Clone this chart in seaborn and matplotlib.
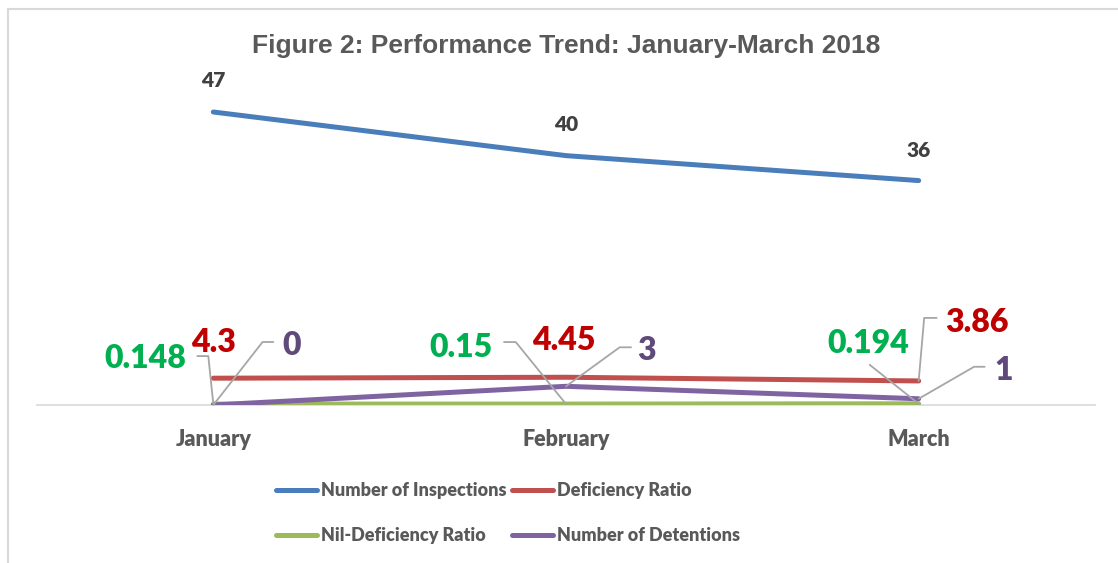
import numpy as np
import pandas as pd
import matplotlib
matplotlib.use("Agg")
import matplotlib.pyplot as plt
from matplotlib.patches import Rectangle
from matplotlib.lines import Line2D
import seaborn as sns

# ---- data ----
months = ["January", "February", "March"]
inspections = [47, 40, 36]
deficiency_ratio = [4.3, 4.45, 3.86]
nil_deficiency_ratio = [0.148, 0.15, 0.194]
detentions = [0, 3, 1]
series_names = ["Number of Inspections", "Deficiency Ratio",
                "Nil-Deficiency Ratio", "Number of Detentions"]
title = "Figure 2: Performance Trend: January-March 2018"

# ---- styling ----
line_colors = ["#4A7EBB", "#C0504D", "#9BBB59", "#8064A2"]
label_colors = ["#404040", "#C00000", "#00B050", "#604A7B"]
label_font = "Lato"
heavy = "heavy"

sns.set_theme(style="white")
plt.rcParams["font.family"] = ["Lato", "DejaVu Sans"]

series_values = [inspections, deficiency_ratio, nil_deficiency_ratio, detentions]
df = pd.DataFrame({
    "Month": np.tile(months, len(series_names)),
    "Value": np.concatenate(series_values),
    "Series": np.repeat(series_names, len(months)),
})

W, H = 1118, 563
fig = plt.figure(figsize=(W / 100, H / 100), dpi=100)
ax = fig.add_axes([37 / W, (H - 405) / H, (1095 - 37) / W, 311.7 / H])

sns.lineplot(data=df, x="Month", y="Value", hue="Series", hue_order=series_names,
             palette=line_colors, linewidth=3.6, sort=False, legend=False, ax=ax,
             solid_capstyle="round", solid_joinstyle="round")

ax.set_xlim(-0.5, 2.5)
ax.set_ylim(0, 50)
ax.set_xlabel("")
ax.set_ylabel("")
ax.set_yticks([])
for s in ["left", "right", "top"]:
    ax.spines[s].set_visible(False)
ax.spines["bottom"].set_color("#d9d9d9")
ax.spines["bottom"].set_linewidth(1.2)
ax.spines["bottom"].set_zorder(0)
ax.set_xticks(range(len(months)))
ax.set_xticklabels(months, fontsize=15.5, fontweight=heavy, color="#595959",
                   family=label_font)
ax.tick_params(axis="x", length=0, pad=17)
ax.patch.set_alpha(0)

# ---- data labels (offsets in pixels from each point: dx, dy to text baseline) ----
label_offsets = {
    0: [(0, 25), (0, 25), (0, 24)],
    1: [(0, 26), (-2, 27), (58, 49)],
    2: [(-68, 36), (-105, 47), (-50, 51)],
    3: [(78, 50), (81, 26), (85, 19)],
}
label_sizes = [15, 23, 23, 23]
for si, vals in enumerate(series_values):
    for mi, v in enumerate(vals):
        dx, dy = label_offsets[si][mi]
        txt = f"{v:g}"
        ax.annotate(txt, xy=(mi, v), xytext=(dx, dy), textcoords="offset pixels",
                    ha="center", va="baseline", fontsize=label_sizes[si],
                    fontweight=heavy, color=label_colors[si], family=label_font,
                    annotation_clip=False)

# ---- leader lines (start offset in pixels from point, angle of the last leg) ----
leaders = [
    (2, 0, (-16, 48), "angle,angleA=0,angleB=96,rad=0"),
    (3, 0, (60, 63), "angle,angleA=0,angleB=52,rad=0"),
    (2, 1, (-62, 62), "angle,angleA=0,angleB=129,rad=0"),
    (3, 1, (65, 39), "angle,angleA=0,angleB=36,rad=0"),
    (1, 2, (18, 63), "angle,angleA=0,angleB=85,rad=0"),
    (2, 2, (-49, 39), "arc3,rad=0"),
    (3, 2, (66, 32), "angle,angleA=0,angleB=30,rad=0"),
]
for si, mi, (dx, dy), cs in leaders:
    ax.annotate("", xy=(mi, series_values[si][mi]), xytext=(dx, dy),
                textcoords="offset pixels",
                arrowprops=dict(arrowstyle="-", color="#a6a6a6", lw=1.3,
                                connectionstyle=cs, shrinkA=0, shrinkB=0),
                annotation_clip=False)

# ---- title ----
fig.text(566 / W, 1 - 46 / H, title, ha="center", va="center", fontsize=19,
         fontweight="bold", color="#595959", family="Liberation Sans")

# ---- legend ----
order = [0, 2, 1, 3]
handles = [Line2D([], [], color=line_colors[i], lw=3.6, solid_capstyle="round")
           for i in order]
labels = [series_names[i] for i in order]
fig.legend(handles, labels, ncol=2, loc="center",
           bbox_to_anchor=(508 / W, 1 - 513 / H), frameon=False,
           prop=dict(family=label_font, weight=heavy, size=13),
           labelcolor="#595959", handlelength=2.3, handletextpad=0.2,
           columnspacing=0.3, labelspacing=1.55)

# ---- outer border ----
fig.patches.append(Rectangle((8 / W, -0.1), 1.2, (1 - 9 / H) + 0.1,
                             transform=fig.transFigure, fill=False,
                             ec="#d9d9d9", lw=1.5))

fig.savefig("out.png", dpi=100)
